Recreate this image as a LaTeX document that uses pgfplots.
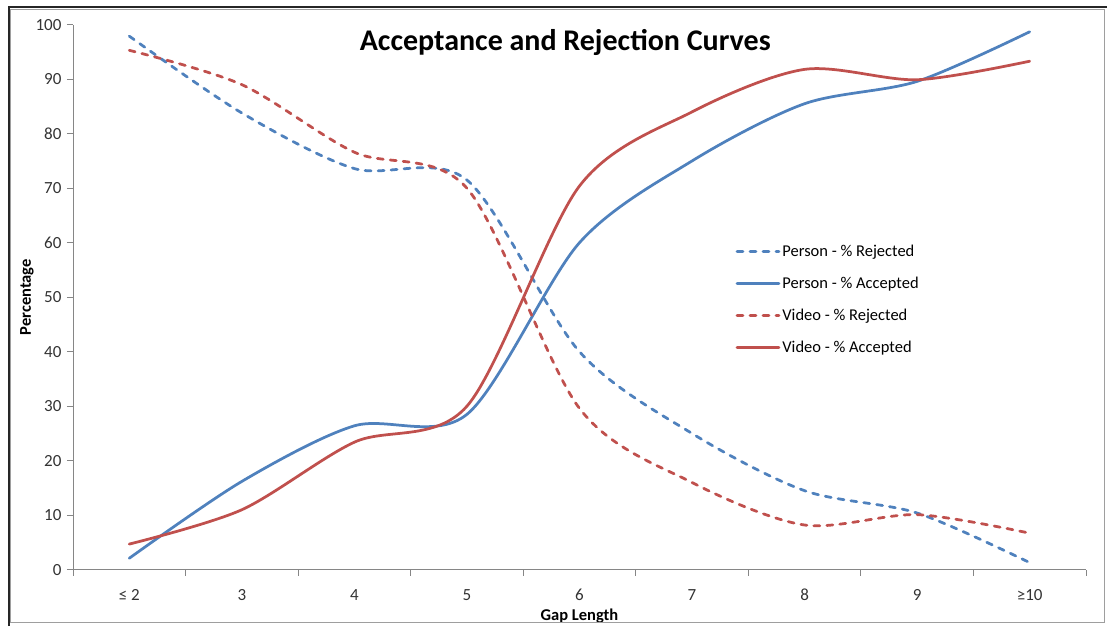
\documentclass[border=0pt]{standalone}
\usepackage{fontspec}
\setmainfont{Carlito}
\usepackage{pgfplots}
\usepackage{pgfplotstable}
\pgfplotsset{compat=1.18}

\definecolor{xlblue}{HTML}{4F81BD}
\definecolor{xlred}{HTML}{C0504D}
\definecolor{xlaxis}{HTML}{868686}

% gap length category (0 = <=2 ... 8 = >=10), percentages
\pgfplotstableread{
x  prej  pacc  vrej  vacc
0  97.9   2.1  95.3   4.7
1  83.8  16.2  89.0  11.0
2  73.6  26.4  76.6  23.4
3  71.5  28.5  70.0  30.0
4  40.0  60.0  29.6  70.4
5  25.0  75.0  16.0  84.0
6  14.5  85.5   8.2  91.8
7  10.4  89.6  10.1  89.9
8   1.3  98.7   6.7  93.3
}\gapdata

\begin{document}
\begin{tikzpicture}
\useasboundingbox (-73pt,-56.3pt) rectangle (1034pt,569.7pt);
\begin{axis}[
    scale only axis,
    width=1013pt, height=545pt,
    xmin=-0.5, xmax=8.5,
    ymin=0, ymax=100,
    axis x line*=bottom, axis y line*=left,
    axis line style={draw=xlaxis, line width=0.8pt},
    xtick={0,...,8},
    xticklabels={≤ 2,3,4,5,6,7,8,9,≥10},
    major x tick style={draw=none},
    minor xtick={-0.5,0.5,...,8.5},
    ytick={0,10,...,100},
    tick align=outside,
    tick style={draw=xlaxis, line width=0.8pt},
    major tick length=6pt, minor tick length=6pt,
    tick label style={font=\fontsize{17}{20}\selectfont, text=black!80},
    /pgf/number format/assume math mode=true,
    xticklabel style={yshift=-10pt},
    yticklabel style={xshift=-2pt},
    xlabel={Gap Length}, ylabel={Percentage},
    label style={font=\bfseries\fontsize{16.5}{19}\selectfont},
    xlabel style={at={(axis description cs:0.5,-0.085)}, anchor=center},
    ylabel style={at={(axis description cs:-0.0454,0.5)}, anchor=center},
    legend style={at={(axis description cs:0.651,0.603)}, anchor=north west,
        draw=none, fill=none, font=\fontsize{16.5}{19}\selectfont,
        row sep=15pt, cells={anchor=west}},
    legend image code/.code={\draw[#1, line width=2.75pt] (0pt,0pt) -- (42pt,0pt);},
    every axis plot/.append style={line width=2.75pt, line cap=round, smooth},
    dashstyle/.style={dash pattern=on 6pt off 7pt},
]
\addplot[xlblue, dashstyle] table[x=x, y=prej] {\gapdata};
\addlegendentry{Person - \% Rejected}
\addplot[xlblue] table[x=x, y=pacc] {\gapdata};
\addlegendentry{Person - \% Accepted}
\addplot[xlred, dashstyle] table[x=x, y=vrej] {\gapdata};
\addlegendentry{Video - \% Rejected}
\addplot[xlred] table[x=x, y=vacc] {\gapdata};
\addlegendentry{Video - \% Accepted}
\node[font=\bfseries\fontsize{30}{34}\selectfont] at (rel axis cs:0.486,0.968) {Acceptance and Rejection Curves};
\end{axis}
\draw[xlaxis!80, line width=1pt] (-62pt,-53pt) rectangle (1031pt,560pt);
\draw[black!85, line width=2.5pt] (-64pt,-56.3pt) -- (-64pt,562.5pt) -- (1034pt,562.5pt);
\end{tikzpicture}
\end{document}
